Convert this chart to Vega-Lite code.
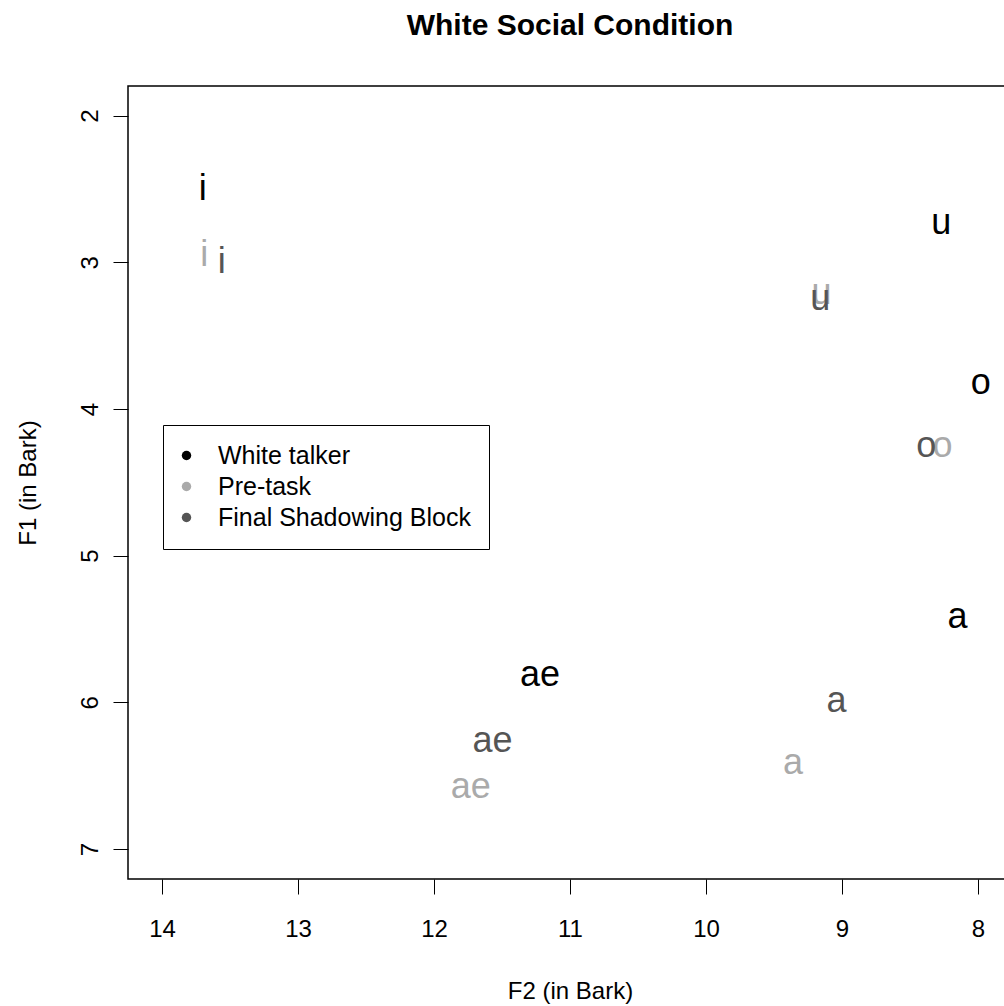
{
  "$schema": "https://vega.github.io/schema/vega-lite/v6.json",
  "autosize": "none",
  "padding": {"left": 128, "top": 86, "right": 0, "bottom": 127},
  "width": 884,
  "height": 793,
  "background": "white",
  "config": {
    "font": "Liberation Sans",
    "view": {"stroke": "black", "strokeWidth": 1.5},
    "axis": {"grid": false, "domain": false, "tickColor": "black", "tickSize": 15, "tickWidth": 1, "labelColor": "black", "titleColor": "black", "labelFontSize": 24, "titleFontSize": 24, "titleFontWeight": "normal", "labelFont": "Liberation Sans", "titleFont": "Liberation Sans"}
  },
  "title": {"text": "White Social Condition", "fontSize": 30, "fontWeight": "bold", "font": "Liberation Sans", "color": "black", "anchor": "middle", "baseline": "alphabetic", "offset": 21},
  "data": {"values": [
    {"vowel": "i", "group": "White talker", "F2": 13.70, "F1": 2.50},
    {"vowel": "u", "group": "White talker", "F2": 8.27, "F1": 2.73},
    {"vowel": "o", "group": "White talker", "F2": 7.98, "F1": 3.82},
    {"vowel": "a", "group": "White talker", "F2": 8.15, "F1": 5.42},
    {"vowel": "ae", "group": "White talker", "F2": 11.22, "F1": 5.81},
    {"vowel": "i", "group": "Pre-task", "F2": 13.69, "F1": 2.95},
    {"vowel": "u", "group": "Pre-task", "F2": 9.15, "F1": 3.21},
    {"vowel": "o", "group": "Pre-task", "F2": 8.26, "F1": 4.25},
    {"vowel": "a", "group": "Pre-task", "F2": 9.36, "F1": 6.41},
    {"vowel": "ae", "group": "Pre-task", "F2": 11.73, "F1": 6.58},
    {"vowel": "i", "group": "Final Shadowing Block", "F2": 13.56, "F1": 3.00},
    {"vowel": "u", "group": "Final Shadowing Block", "F2": 9.16, "F1": 3.25},
    {"vowel": "o", "group": "Final Shadowing Block", "F2": 8.38, "F1": 4.25},
    {"vowel": "a", "group": "Final Shadowing Block", "F2": 9.04, "F1": 5.99},
    {"vowel": "ae", "group": "Final Shadowing Block", "F2": 11.57, "F1": 6.26}
  ]},
  "mark": {"type": "text", "fontSize": 36, "font": "Liberation Sans", "align": "center", "baseline": "middle"},
  "encoding": {
    "x": {"field": "F2", "type": "quantitative", "title": "F2 (in Bark)",
      "scale": {"domain": [7.75, 14.25], "reverse": true, "nice": false, "zero": false},
      "axis": {"values": [8, 9, 10, 11, 12, 13, 14], "labelPadding": 23, "titlePadding": 38}},
    "y": {"field": "F1", "type": "quantitative", "title": "F1 (in Bark)",
      "scale": {"domain": [1.798, 7.204], "reverse": true, "nice": false, "zero": false},
      "axis": {"values": [2, 3, 4, 5, 6, 7], "labelAngle": -90, "labelAlign": "center", "labelBaseline": "alphabetic", "labelPadding": 16, "titlePadding": 38}},
    "text": {"field": "vowel"},
    "color": {"field": "group", "type": "nominal",
      "scale": {"domain": ["White talker", "Pre-task", "Final Shadowing Block"], "range": ["#000000", "#aaaaaa", "#555555"]},
      "legend": {"title": null, "orient": "none", "legendX": 35, "legendY": 339, "symbolType": "circle", "symbolSize": 90, "symbolStrokeWidth": 0, "symbolOffset": -7, "labelFontSize": 25, "labelLimit": 400, "labelColor": "black", "labelOffset": 19, "padding": 18, "rowPadding": 5, "strokeColor": "black", "fillColor": "white", "labelFont": "Liberation Sans"}
    }
  }
}
